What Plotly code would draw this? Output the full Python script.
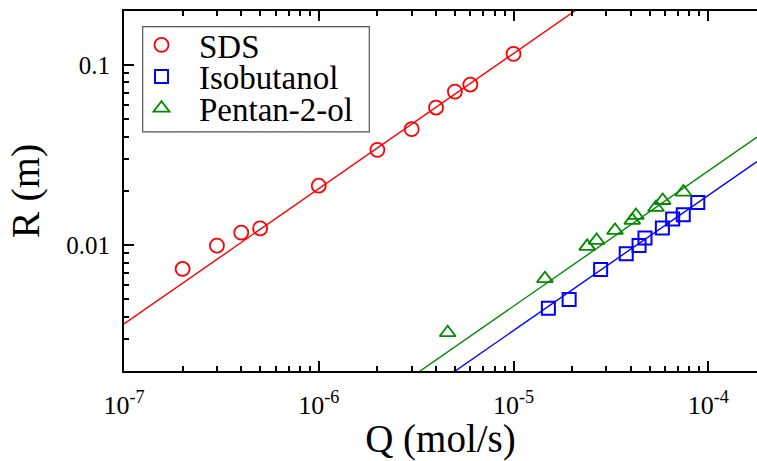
import numpy as np
import plotly.graph_objects as go

# ---- data ----
sds_q = [2e-7, 3e-7, 4e-7, 5e-7, 1e-6, 2e-6, 3e-6, 4e-6, 5e-6, 6e-6, 1e-5]
sds_r = [0.00738, 0.00994, 0.01173, 0.01239, 0.02137, 0.0338, 0.0440, 0.0580, 0.0711, 0.0778, 0.1151]

iso_q = [1.51e-5, 1.93e-5, 2.80e-5, 3.79e-5, 4.41e-5, 4.73e-5, 5.81e-5, 6.56e-5, 7.44e-5, 8.83e-5]
iso_r = [0.00447, 0.00499, 0.00734, 0.00897, 0.00997, 0.01096, 0.01245, 0.01396, 0.01475, 0.01726]

pen_q = [4.59e-6, 1.45e-5, 2.39e-5, 2.67e-5, 3.32e-5, 4.07e-5, 4.25e-5, 5.39e-5, 5.83e-5, 7.45e-5]
pen_r = [0.00327, 0.00652, 0.00985, 0.01063, 0.01208, 0.01372, 0.01462, 0.01619, 0.01769, 0.01971]

# power-law fits R = K * Q^n
fit_exponent = 0.75
sds_k = 650.8
iso_k = 18.9
pen_k = 25.8

x_ticks = [1e-7, 1e-6, 1e-5, 1e-4]
x_ticktext = ["10<sup>-7</sup>", "10<sup>-6</sup>", "10<sup>-5</sup>", "10<sup>-4</sup>"]
y_ticks = [0.01, 0.1]
y_ticktext = ["0.01", "0.1"]

x_range_log = [-7, -3.75]
y_range_log = [-2.698, -0.701]

RED = "#ff0000"
BLUE = "#0000ff"
GREEN = "#008c00"
FONT = "Liberation Serif"

q_line = np.logspace(x_range_log[0], x_range_log[1], 50)

fig = go.Figure()

def add_fit(k, color):
    fig.add_trace(go.Scatter(x=q_line, y=k * q_line ** fit_exponent, mode="lines",
                             line=dict(color=color, width=1.4), showlegend=False,
                             hoverinfo="skip"))

add_fit(sds_k, RED)
add_fit(pen_k, GREEN)
add_fit(iso_k, BLUE)

fig.add_trace(go.Scatter(x=sds_q, y=sds_r, mode="markers", name="SDS", legend="legend",
                         marker=dict(symbol="circle-open", size=14, color=RED, line=dict(width=1.8, color=RED))))
fig.add_trace(go.Scatter(x=iso_q, y=iso_r, mode="markers", name="Isobutanol", legend="legend2",
                         marker=dict(symbol="square-open", size=13, color=BLUE, line=dict(width=2, color=BLUE))))
fig.add_trace(go.Scatter(x=pen_q, y=pen_r, mode="markers", name="Pentan-2-ol", legend="legend3",
                         marker=dict(symbol="triangle-up-open", size=14, color=GREEN, line=dict(width=1.8, color=GREEN))))

x_minor = [m * 10 ** e for e in range(-7, -3) for m in range(2, 10) if m * 10 ** e < 1.78e-4]
y_minor = [m * 10 ** e for e in range(-3, 0) for m in range(2, 10) if 0.00199 < m * 10 ** e < 0.19]

leg_common = dict(font=dict(family=FONT, size=33, color="black"), bgcolor="rgba(0,0,0,0)",
                  borderwidth=0, xanchor="left", yanchor="middle", itemwidth=65)

fig.update_layout(
    width=757, height=461,
    margin=dict(l=124, r=0, t=11, b=90, autoexpand=False),
    paper_bgcolor="white", plot_bgcolor="white",
    font=dict(family=FONT, color="black"),
    xaxis=dict(type="log", range=x_range_log, tickmode="array", tickvals=x_ticks, ticktext=x_ticktext,
               ticks="inside", ticklen=10, tickwidth=2, tickcolor="black",
               showline=True, linewidth=2, linecolor="black", mirror="ticks",
               showgrid=False, zeroline=False, automargin=False,
               tickfont=dict(family=FONT, size=26), ticklabelstandoff=10,
               minor=dict(tickmode="array", tickvals=x_minor, ticks="inside", ticklen=5,
                          tickwidth=1.5, tickcolor="black", showgrid=False),
               title=dict(text="Q (mol/s)", font=dict(family=FONT, size=39), standoff=2)),
    yaxis=dict(type="log", range=y_range_log, tickmode="array", tickvals=y_ticks, ticktext=y_ticktext,
               ticks="inside", ticklen=10, tickwidth=2, tickcolor="black",
               showline=True, linewidth=2, linecolor="black", mirror=False,
               showgrid=False, zeroline=False, automargin=False,
               tickfont=dict(family=FONT, size=25), ticklabelstandoff=7,
               minor=dict(tickmode="array", tickvals=y_minor, ticks="inside", ticklen=5,
                          tickwidth=1.5, tickcolor="black", showgrid=False),
               title=dict(text="R (m)", font=dict(family=FONT, size=40), standoff=14)),
    legend=dict(x=0.0, y=0.9057, **leg_common),
    legend2=dict(x=0.0, y=0.8178, **leg_common),
    legend3=dict(x=0.0, y=0.7301, **leg_common),
    shapes=[dict(type="rect", xref="paper", yref="paper", x0=0.0295, x1=0.3875, y0=0.6644, y1=0.9564,
                 line=dict(color="#555555", width=1.2), fillcolor="white", layer="below")],
)

fig.write_html("out.html", config={"displayModeBar": False},
               post_script="document.body.style.margin='0';document.body.style.overflow='hidden';")
